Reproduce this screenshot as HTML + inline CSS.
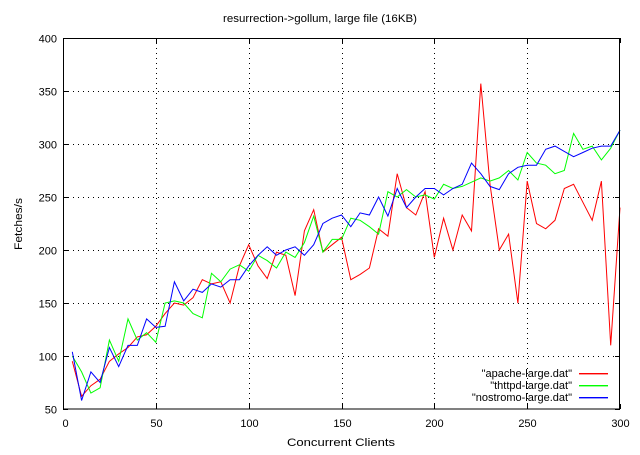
<!DOCTYPE html>
<html><head><meta charset="utf-8"><style>
html,body{margin:0;padding:0;background:#fff}
svg text{font-family:"Liberation Sans",sans-serif;font-size:11px;fill:#000}
</style></head><body>
<svg id="s" width="640" height="450" xmlns="http://www.w3.org/2000/svg">
<rect width="640" height="450" fill="#fff"/>
<g id="grid" stroke="#000" stroke-width="1" stroke-dasharray="1,4" fill="none" shape-rendering="crispEdges"></g>
<g id="ticks" stroke="#000" stroke-width="1" shape-rendering="crispEdges"></g>
<g id="lbl"></g>
<text x="320" y="22" text-anchor="middle" textLength="194" lengthAdjust="spacingAndGlyphs">resurrection-&gt;gollum, large file (16KB)</text>
<text x="341" y="446" text-anchor="middle" textLength="108" lengthAdjust="spacingAndGlyphs">Concurrent Clients</text>
<text transform="translate(22,224) rotate(-90)" text-anchor="middle" textLength="52" lengthAdjust="spacingAndGlyphs">Fetches/s</text>
<g id="series" fill="none" stroke-width="1"></g>
<text x="572" y="377" text-anchor="end">"apache-large.dat"</text>
<text x="572" y="389" text-anchor="end">"thttpd-large.dat"</text>
<text x="572" y="401" text-anchor="end">"nostromo-large.dat"</text>
<rect x="579" y="373" width="29" height="1.4" fill="#f00"/>
<rect x="579" y="385" width="29" height="1.4" fill="#0f0"/>
<rect x="579" y="397" width="29" height="1.4" fill="#00f"/>
<rect x="63.5" y="38.5" width="556" height="370.5" fill="none" stroke="#000" shape-rendering="crispEdges"/>
</svg>
<script>
var NS="http://www.w3.org/2000/svg";
function X(v){return 63+v*1.8567}
function Y(v){return 409-(v-50)*1.06}
function el(p,n,a,t){var e=document.createElementNS(NS,n);for(var k in a)e.setAttribute(k,a[k]);if(t!==undefined)e.textContent=String(t);document.getElementById(p).appendChild(e);}
for(var v=50;v<=400;v+=50){var y=Math.round(Y(v))+.5;
 if(v>50&&v<400)el("grid","line",{x1:63,y1:y,x2:620,y2:y});
 el("ticks","line",{x1:63,y1:y,x2:68,y2:y});el("ticks","line",{x1:615,y1:y,x2:620,y2:y});
 el("lbl","text",{x:57,y:y+4,"text-anchor":"end"},v);}
for(var v=0;v<=300;v+=50){var x=Math.round(X(v))+.5;
 if(v>0&&v<300)el("grid","line",{x1:x,y1:38,x2:x,y2:409});
 el("ticks","line",{x1:x,y1:409,x2:x,y2:404});el("ticks","line",{x1:x,y1:38,x2:x,y2:43});
 el("lbl","text",{x:x+(v==0?2:0),y:427,"text-anchor":"middle"},v);}
var R=[95,62,72,78,95,102,108,118,120,128,140,150,148,155,172,168,170,150,185,205,185,173,198,195,157,218,238,198,205,212,172,177,183,220,213,272,240,233,255,193,230,200,233,218,357,262,200,215,150,265,225,220,228,258,262,245,228,265,110,240];
var G=[100,85,65,70,115,95,135,115,122,113,150,152,150,140,136,178,170,182,186,180,195,190,183,198,193,207,232,198,210,210,230,228,222,215,255,250,257,250,252,248,262,258,260,264,268,265,268,275,266,292,282,280,272,275,310,295,298,285,296,313];
var B=[104,58,85,75,108,90,110,110,135,127,128,170,152,163,160,168,165,172,172,185,195,203,195,200,203,195,205,225,230,233,222,235,233,250,232,258,240,250,258,258,252,258,262,282,272,260,257,272,278,280,280,295,298,293,288,292,296,298,298,313];
[[R,"#f00"],[G,"#0f0"],[B,"#00f"]].forEach(function(s){
 var p=s[0].map(function(v,i){return X(5*(i+1)).toFixed(1)+","+Y(v).toFixed(1)}).join(" ");
 el("series","polyline",{points:p,stroke:s[1]});});
</script>
</body></html>
